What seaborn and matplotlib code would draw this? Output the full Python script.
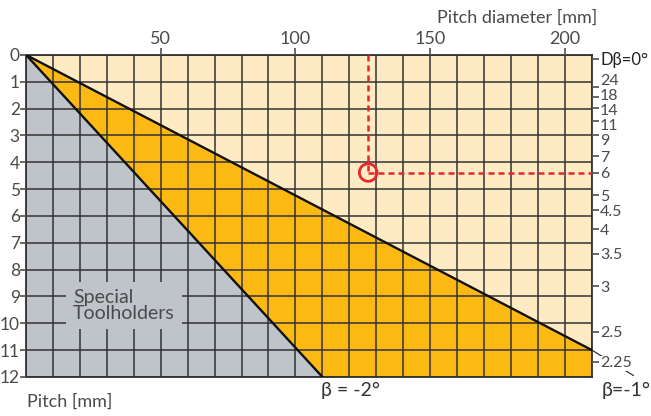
import numpy as np
import matplotlib
matplotlib.use("Agg")
import matplotlib.pyplot as plt
from matplotlib.transforms import ScaledTranslation
import seaborn as sns

# limit lines: pitch diameter [mm] -> pitch [mm]
beta2_diam = [0, 110]
beta2_pitch = [0, 12]
beta1_diam = [0, 210]
beta1_pitch = [0, 11]

diam_ticks = [50, 100, 150, 200]
pitch_ticks = list(range(13))
tpi_ticks = [24, 18, 14, 11, 9, 7, 6, 5, 4.5, 4, 3.5, 3, 2.5, 2.25]
tpi_labels = ['24', '18', '14', '11', '9', '7', '6', '5', '4.5', '4',
              '3.5', '3', '2.5', '2.25']

# worked example
example_diam = 127
example_tpi = 6

beige = '#FFEBC3'
orange = '#FDB913'
gray = '#BFC3CA'
red = '#E8262D'
txt = '#4a4a4a'

sns.set_theme(style='white')
plt.rcParams['font.family'] = ['Lato', 'DejaVu Sans']

fig = plt.figure(figsize=(6.51, 4.16), dpi=100)
ax = fig.add_axes([0.040, 0.094, 0.869, 0.774])
ax.set_facecolor(beige)
ax.set_xlim(0, 210)
ax.set_ylim(12, 0)

# regions
ax.fill_betweenx(beta2_pitch, 0, beta2_diam, color=gray, lw=0, zorder=1)
xs = np.array([0, beta2_diam[-1], beta1_diam[-1]])
ax.fill_between(xs, np.interp(xs, beta1_diam, beta1_pitch),
                np.interp(xs, beta2_diam, beta2_pitch),
                color=orange, lw=0, zorder=1)

# grid
ax.set_xticks(diam_ticks)
ax.set_xticks(range(0, 211, 10), minor=True)
ax.set_yticks(pitch_ticks)
ax.set_axisbelow(False)
ax.grid(which='both', color='#333333', lw=1.1)

sns.lineplot(x=beta2_diam, y=beta2_pitch, color='#111111', lw=1.7, ax=ax, zorder=3)
sns.lineplot(x=beta1_diam, y=beta1_pitch, color='#111111', lw=1.7, ax=ax, zorder=3)

ax.xaxis.tick_top()
ax.tick_params(axis='x', which='major', top=True, bottom=False, length=5,
               color='#555555', labelsize=13, labelcolor=txt, pad=1)
ax.tick_params(axis='x', which='minor', length=0)
ax.tick_params(axis='y', left=True, length=4, color='#555555',
               labelsize=12.5, labelcolor=txt, pad=0.5)
for s in ax.spines.values():
    s.set_color('#222222')
    s.set_linewidth(1.2)

ax.text(17.5, 9.35, 'Special\nToolholders', ha='left', va='center',
        fontsize=14, color=txt, linespacing=0.95, zorder=4,
        bbox=dict(facecolor=gray, edgecolor='none', pad=5))

# right axis: threads per inch
ax2 = ax.twinx()
ax2.set_ylim(11.85, -0.15)
ax2.set_yticks([0] + [25.4 / t for t in tpi_ticks])
ax2.set_yticklabels(['Dβ=0°'] + tpi_labels)
ax2.grid(False)
ax2.tick_params(axis='y', right=True, length=5, color='#555555',
                labelsize=11.5, labelcolor=txt, pad=1)
ax2.get_yticklabels()[0].set_fontsize(12)
for s in ax2.spines.values():
    s.set_visible(False)
labels = ax2.get_yticklabels()
labels[0].set_color('#222222')
labels[-1].set_bbox(dict(facecolor='white', edgecolor='none', pad=0.3))
# spread the crowded labels near the top (pixels, downward)
spread = {1: -8, 2: -2, 3: 2, 4: 4, 5: 5, 6: 0}
for i, dpx in spread.items():
    lab = labels[i]
    lab.set_transform(lab.get_transform() + ScaledTranslation(0, -dpx / 100, fig.dpi_scale_trans))

# example reading
ex_p = 25.4 / example_tpi
ax2.plot([example_diam, example_diam], [-0.15, ex_p], color=red, lw=1.8,
         ls=(0, (2.4, 1.6)), zorder=5)
ax2.plot([example_diam, 210], [ex_p, ex_p], color=red, lw=1.8,
         ls=(0, (2.4, 1.6)), zorder=5)
ax2.scatter([example_diam], [ex_p], s=160, facecolors='none',
            edgecolors=red, linewidths=2, zorder=6)

# labels
ax.plot([210, 225.5], [11, 11.95], color='#333333', lw=0.9, clip_on=False, zorder=0)
ax.text(213.5, 12.5, 'β=-1°', ha='left', va='center', fontsize=14, color='#333333')
ax.text(109.5, 12.5, 'β = -2°', ha='left', va='center', fontsize=14, color='#333333')
fig.text(597 / 651, 1 - 18 / 416, 'Pitch diameter [mm]', ha='right', va='center',
         fontsize=13, color=txt)
fig.text(27 / 651, 1 - 402 / 416, 'Pitch [mm]', ha='left', va='center',
         fontsize=13, color=txt)

fig.savefig('out.png', dpi=100)
